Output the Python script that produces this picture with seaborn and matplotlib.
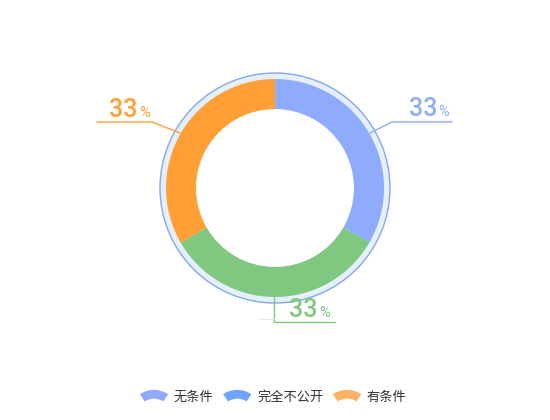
import matplotlib
matplotlib.use("Agg")
import matplotlib.pyplot as plt
import seaborn as sns
from matplotlib.patches import Circle, Wedge
from matplotlib.legend_handler import HandlerPatch
from matplotlib.patches import Patch

sns.set_theme(style="white")
plt.rcParams['font.family'] = ['Noto Sans CJK SC', 'DejaVu Sans']

# data
slice_names = ["无条件", "中", "有条件"]
slice_values = [33, 33, 33]
slice_colors = ["#8EABFD", "#80C77F", "#FF9F35"]
label_text = ["33", "33", "33"]
legend_names = ["无条件", "完全不公开", "有条件"]
legend_colors = ["#8EA9FD", "#6FA4FE", "#FFB165"]

W, H = 550, 420
fig = plt.figure(figsize=(5.5, 4.2), dpi=100)
ax = fig.add_axes([0, 0, 1, 1])
ax.set_xlim(0, W)
ax.set_ylim(0, H)
ax.set_aspect('equal')
ax.axis('off')

cx, cy = 275, H - 188
R_out, R_in, R_ring = 109, 79, 115

ax.add_patch(Circle((cx, cy), R_ring, facecolor="#E5EFFD", edgecolor="#84A8EC", lw=1.0, zorder=1))
ax.add_patch(Circle((cx, cy), R_in, facecolor="white", edgecolor="none", zorder=1.5))
ax.pie(slice_values, colors=slice_colors, startangle=90, counterclock=False,
       radius=R_out, center=(cx, cy), frame=True,
       wedgeprops=dict(width=R_out - R_in, linewidth=0, zorder=2))
ax.set_xlim(0, W)
ax.set_ylim(0, H)
ax.axis('off')

def Y(y):
    return H - y

# label leader lines
lw = 1.0
ax.plot([370, 392, 452], [Y(133), Y(122), Y(122)], color=slice_colors[0], lw=lw, zorder=3)
ax.plot([180, 152, 97], [Y(133), Y(122), Y(122)], color=slice_colors[2], lw=lw, zorder=3)
ax.plot([274, 274, 335], [Y(297), Y(322), Y(322)], color=slice_colors[1], lw=lw, zorder=3)
ax.plot([258, 274], [Y(319), Y(319)], color="#E3EEE3", lw=0.8, zorder=3)

num_font = dict(family=['Roboto', 'DejaVu Sans'], fontsize=18, fontweight='medium')
pct_font = dict(family=['Roboto', 'DejaVu Sans'], fontsize=10.5, fontweight='normal')
label_pos = [(437, 116), (318, 317), (138, 117)]
for (x, y), txt, col in zip(label_pos, label_text, slice_colors):
    ax.text(x, Y(y), txt, color=col, ha='right', va='baseline', **num_font, zorder=4)
    ax.text(x + 1.5, Y(y), "%", color=col, ha='left', va='baseline', **pct_font, zorder=4)


class FanHandler(HandlerPatch):
    def create_artists(self, legend, orig_handle, xdescent, ydescent, width, height, fontsize, trans):
        cxh = -xdescent + width / 2
        r = width * 1.2
        cyh = -ydescent + height + 1 - r
        w = Wedge((cxh, cyh), r, 90 - 34, 90 + 34, width=height * 0.95,
                  facecolor=orig_handle.get_facecolor(), edgecolor='none', transform=trans)
        return [w]

handles = [Patch(facecolor=c) for c in legend_colors]
leg = fig.legend(handles, legend_names, loc='center', bbox_to_anchor=(0.5, 1 - 397 / H),
                 ncol=3, frameon=False, fontsize=9.5, handlelength=1.6, handleheight=0.7,
                 handletextpad=0.7, columnspacing=1.0,
                 handler_map={Patch: FanHandler()})
for t in leg.get_texts():
    t.set_color("#333333")

fig.savefig("out.png", dpi=100)
